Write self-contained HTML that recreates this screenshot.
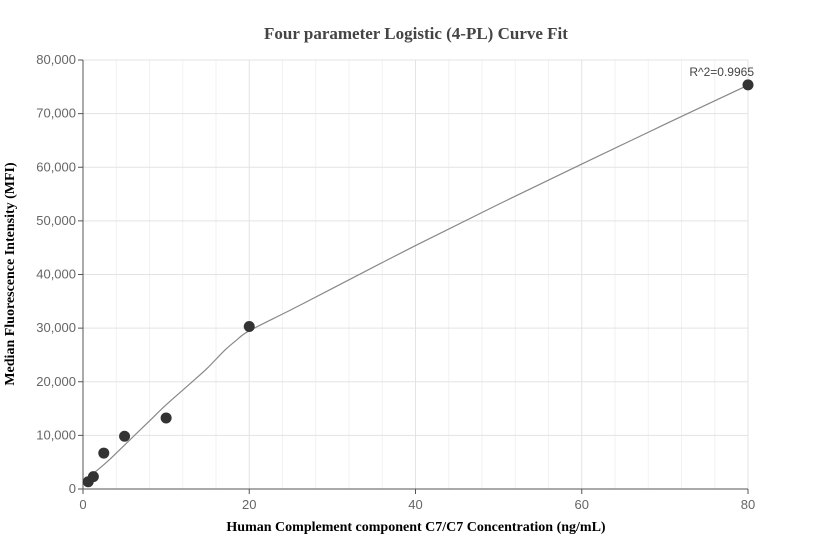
<!DOCTYPE html>
<html><head><meta charset="utf-8"><style>
body{margin:0;background:#fff;}
svg{display:block;}
</style></head><body>
<svg id="chart" width="832" height="560" xmlns="http://www.w3.org/2000/svg">
<text x="416" y="39" text-anchor="middle" font-family="Liberation Serif, serif" font-weight="bold" font-size="17" fill="#444">Four parameter Logistic (4-PL) Curve Fit</text>
<text x="416" y="531" text-anchor="middle" font-family="Liberation Serif, serif" font-weight="bold" font-size="14" fill="#000">Human Complement component C7/C7 Concentration (ng/mL)</text>
<text transform="translate(14,274) rotate(-90)" text-anchor="middle" font-family="Liberation Serif, serif" font-weight="bold" font-size="14" fill="#000">Median Fluorescence Intensity (MFI)</text>
<g id="grid"></g><g id="axes"></g><g id="marks"></g>
</svg>
<script>
const xTicks=[0,20,40,60,80];
const yTicks=[0,10000,20000,30000,40000,50000,60000,70000,80000];
const pointX=[0.625,1.25,2.5,5,10,20,80];
const pointY=[1360,2300,6700,9830,13250,30300,75370];
const curveX=[0,1,3,5,8,10,13,15,17,18.5,20,25,30,40,50,60,70,80];
const curveY=[1500,2600,5200,8200,12700,15700,19800,22600,25800,27800,29500,33400,37400,45400,53100,60600,68000,75300];
const r2Label="R^2=0.9965";
const L=83,R=748,T=60,B=489,XMAX=80,YMAX=80000;
const sx=v=>L+(v/XMAX)*(R-L), sy=v=>B-(v/YMAX)*(B-T);
const NS="http://www.w3.org/2000/svg";
function mk(tag,attrs,parent){const e=document.createElementNS(NS,tag);for(const k in attrs)e.setAttribute(k,attrs[k]);parent.appendChild(e);return e;}
const grid=document.getElementById('grid'),axes=document.getElementById('axes'),marks=document.getElementById('marks');
for(let v=4;v<=XMAX;v+=4){const l=mk('line',{x1:sx(v),x2:sx(v),y1:T,y2:B,stroke:v%20?'#f2f2f2':'#e3e3e3','stroke-width':1},grid);
}
for(let v=5000;v<=YMAX;v+=5000){if(v%10000)continue;const l=mk('line',{x1:L,x2:R,y1:sy(v),y2:sy(v),stroke:'#e3e3e3','stroke-width':1},grid);
}
let a=mk('line',{x1:L,x2:L,y1:T,y2:B,stroke:'#555'},axes);
a=mk('line',{x1:L,x2:R,y1:B,y2:B,stroke:'#555'},axes);
xTicks.forEach(v=>{const t=mk('line',{x1:sx(v),x2:sx(v),y1:B,y2:B+5,stroke:'#555'},axes);
const tx=mk('text',{x:sx(v),y:B+20,'text-anchor':'middle','font-family':'Liberation Sans, sans-serif','font-size':13,fill:'#666'},axes);tx.textContent=v;
});
yTicks.forEach(v=>{const t=mk('line',{x1:L-5,x2:L,y1:sy(v),y2:sy(v),stroke:'#555'},axes);
const tx=mk('text',{x:L-7,y:sy(v)+4,'text-anchor':'end','font-family':'Liberation Sans, sans-serif','font-size':13,fill:'#666'},axes);tx.textContent=v.toLocaleString('en-US');
});
// smooth curve (catmull-rom)
const P=curveX.map((x,i)=>[sx(x),sy(curveY[i])]);
let d='M'+P[0][0]+','+P[0][1];
for(let i=0;i<P.length-1;i++){const p0=P[i-1]||P[i],p1=P[i],p2=P[i+1],p3=P[i+2]||p2;
d+=` C${p1[0]+(p2[0]-p0[0])/6},${p1[1]+(p2[1]-p0[1])/6} ${p2[0]-(p3[0]-p1[0])/6},${p2[1]-(p3[1]-p1[1])/6} ${p2[0]},${p2[1]}`;}
const c=mk('path',{d:d,fill:'none',stroke:'#888','stroke-width':1.2},marks);

pointX.forEach((x,i)=>{const p=mk('circle',{cx:sx(x),cy:sy(pointY[i]),r:5.5,fill:'#333'},marks);
});
const lb=mk('text',{x:sx(pointX[6])+6,y:sy(pointY[6])-9,'text-anchor':'end','font-family':'Liberation Sans, sans-serif','font-size':12,fill:'#444'},marks);
lb.textContent=r2Label;
</script>
</body></html>
